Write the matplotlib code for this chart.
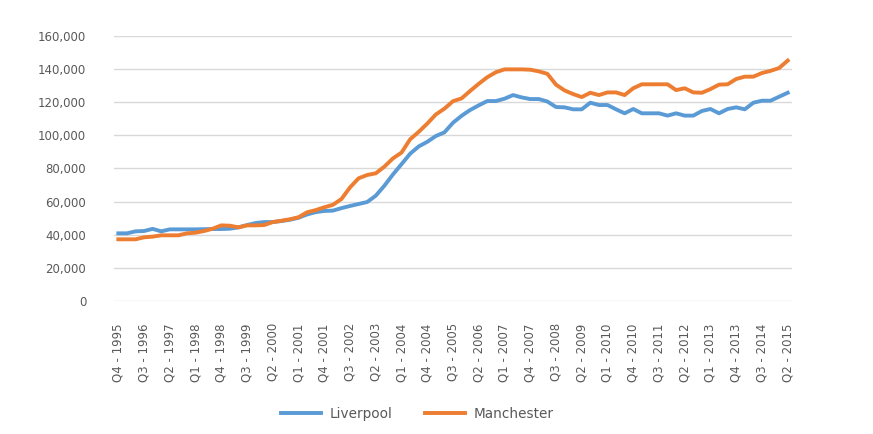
import matplotlib
matplotlib.use("Agg")
import matplotlib.pyplot as plt
from matplotlib.ticker import FuncFormatter

# quarters Q4 1995 .. Q2 2015
quarters = []
for year in range(1995, 2016):
    for q in range(1, 5):
        if (year == 1995 and q < 4) or (year == 2015 and q > 2):
            continue
        quarters.append("Q%d - %d" % (q, year))

liverpool = [
    40800, 40800, 42000, 42200, 43500, 42000, 43200, 43200, 43200, 43200,
    43300, 43400, 43400, 43600, 44400, 45800, 47000, 47600, 47600, 48200,
    49000, 50200, 52200, 53600, 54300, 54500, 56000, 57300, 58500, 59700,
    63500, 69500, 76300, 82500, 88800, 93200, 96000, 99500, 101700, 107500,
    111700, 115200, 118000, 120600, 120600, 122000, 124200, 122800, 121800, 121800,
    120300, 117000, 116800, 115600, 115600, 119600, 118200, 118200, 115600, 113200,
    115800, 113200, 113200, 113200, 111800, 113200, 111800, 111800, 114600, 115800,
    113200, 115800, 116800, 115600, 119600, 120800, 120800, 123200, 125600,
]

manchester = [
    37200, 37200, 37200, 38400, 38800, 39600, 39600, 39600, 40800, 41200,
    42200, 43600, 45600, 45400, 44400, 45600, 45600, 45800, 47600, 48400,
    49300, 50500, 53500, 54800, 56500, 58000, 61500, 68500, 74000, 76000,
    77000, 81000, 86000, 89500, 97500, 102000, 107000, 112500, 116000, 120500,
    122200, 126700, 131000, 135000, 138000, 139700, 139700, 139700, 139500, 138500,
    137000, 130500, 127000, 124800, 123000, 125600, 124200, 125800, 125800, 124200,
    128300, 130700, 130700, 130700, 130700, 127200, 128300, 125800, 125600, 127800,
    130500, 130700, 133900, 135300, 135300, 137500, 138800, 140500, 145000,
]

blue = "#5B9BD5"
orange = "#ED7D31"
text_col = "#595959"

fig = plt.figure(figsize=(8.73, 4.34), dpi=100)
ax = fig.add_axes([0.1306, 0.3065, 0.7766, 0.6112])

x = list(range(len(quarters)))
ax.plot(x, liverpool, color=blue, lw=2.8, label="Liverpool", solid_joinstyle="round")
ax.plot(x, manchester, color=orange, lw=2.8, label="Manchester", solid_joinstyle="round")

ax.set_xlim(-0.5, len(quarters) - 0.5)
ax.set_ylim(0, 160000)
ax.set_yticks(range(0, 160001, 20000))
ax.yaxis.set_major_formatter(FuncFormatter(lambda v, p: "{:,.0f}".format(v)))
ax.grid(axis="y", color="#D9D9D9", lw=1)
ax.set_axisbelow(True)

ax.set_xticks(x[::3])
ax.set_xticklabels(quarters[::3], rotation=90)
ax.tick_params(axis="x", length=0, pad=16, labelsize=8.5, colors=text_col)
ax.tick_params(axis="y", length=0, pad=20, labelsize=8.5, colors=text_col)

for s in ax.spines.values():
    s.set_visible(False)

fig.legend(loc="center", bbox_to_anchor=(0.478, 0.046),
           ncol=2, frameon=False, fontsize=9.8, handlelength=2.95,
           handletextpad=0.6, columnspacing=2.4, labelcolor=text_col)

fig.savefig("out.png", dpi=100)
